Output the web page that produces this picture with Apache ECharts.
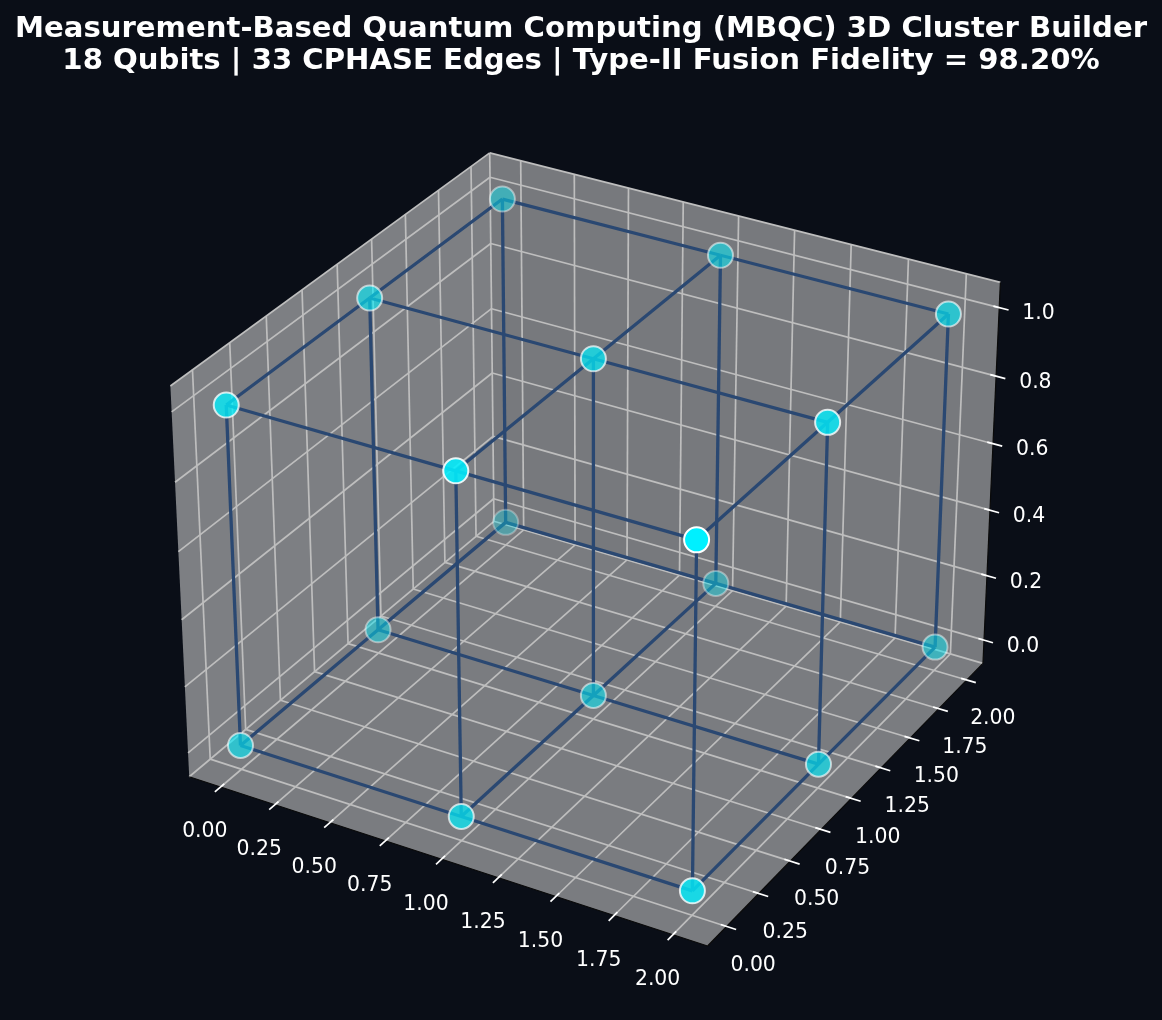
<!DOCTYPE html>
<html>
<head>
<meta charset="utf-8">
<style>html,body{margin:0;padding:0;background:#0a0e17}#c{width:1162px;height:1020px}</style>
<script src="https://cdn.jsdelivr.net/npm/echarts@6/dist/echarts.min.js"></script>
</head>
<body>
<div id="c"></div>
<script>
// ---- data ----
const qubitX = [0,0,0,1,1,1,2,2,2, 0,0,0,1,1,1,2,2,2];
const qubitY = [0,1,2,0,1,2,0,1,2, 0,1,2,0,1,2,0,1,2];
const qubitZ = [0,0,0,0,0,0,0,0,0, 1,1,1,1,1,1,1,1,1];
const edgeFrom = [0,1,3,4,6,7, 9,10,12,13,15,16, 0,3,1,4,2,5, 9,12,10,13,11,14, 0,1,2,3,4,5,6,7,8];
const edgeTo   = [1,2,4,5,7,8, 10,11,13,14,16,17, 3,6,4,7,5,8, 12,15,13,16,14,17, 9,10,11,12,13,14,15,16,17];
const xTicks = [0,0.25,0.5,0.75,1,1.25,1.5,1.75,2];
const yTicks = [0,0.25,0.5,0.75,1,1.25,1.5,1.75,2];
const zTicks = [0,0.2,0.4,0.6,0.8,1];
const xTickLabels = ['0.00','0.25','0.50','0.75','1.00','1.25','1.50','1.75','2.00'];
const yTickLabels = ['0.00','0.25','0.50','0.75','1.00','1.25','1.50','1.75','2.00'];
const zTickLabels = ['0.0','0.2','0.4','0.6','0.8','1.0'];
const titleText = 'Measurement-Based Quantum Computing (MBQC) 3D Cluster Builder\n18 Qubits | 33 CPHASE Edges | Type-II Fusion Fidelity = 98.20%';

// ---- 3D view: elevation 30, azimuth -60, box 4:4:3 ----
const xLim = [-0.1 - 2.2/48, 2.1 + 2.2/48];
const yLim = xLim;
const zLim = [-0.05 - 1.1/48, 1.05 + 1.1/48];
const boxScale = 1.8294640721620434 * 25/24 / Math.sqrt(41);
const box = [4*boxScale, 4*boxScale, 3*boxScale];
const camDist = 10, viewScale = 4988, viewCx = 593.4, viewCy = 530.4;
const el = 30*Math.PI/180, az = -60*Math.PI/180;
const W = [Math.cos(el)*Math.cos(az), Math.cos(el)*Math.sin(az), Math.sin(el)];
const un = Math.hypot(W[0],W[1]);
const U = [-W[1]/un, W[0]/un, 0];
const V = [W[1]*U[2]-W[2]*U[1], W[2]*U[0]-W[0]*U[2], W[0]*U[1]-W[1]*U[0]];
const dot = (a,b)=>a[0]*b[0]+a[1]*b[1]+a[2]*b[2];
function view(x,y,z){
  const p = [
    (x-xLim[0])/(xLim[1]-xLim[0])*box[0]-box[0]/2,
    (y-yLim[0])/(yLim[1]-yLim[0])*box[1]-box[1]/2,
    (z-zLim[0])/(zLim[1]-zLim[0])*box[2]-box[2]/2];
  const d = camDist - dot(p,W);
  return {sx: viewCx + viewScale*dot(p,U)/d, sy: viewCy - viewScale*dot(p,V)/d, depth: d};
}
const proj = (x,y,z)=>{const v=view(x,y,z);return [v.sx,v.sy];};
const seg = (a,b)=>[a[0],a[1],b[0],b[1]];

const [x0,x1]=xLim,[y0,y1]=yLim,[z0,z1]=zLim;

// panes
const panes = [
  {pts:[[x0,y0,z0],[x0,y1,z0],[x0,y1,z1],[x0,y0,z1]], fill:'rgb(125,127,131)'},
  {pts:[[x0,y1,z0],[x1,y1,z0],[x1,y1,z1],[x0,y1,z1]], fill:'rgb(119,121,125)'},
  {pts:[[x0,y0,z0],[x1,y0,z0],[x1,y1,z0],[x0,y1,z0]], fill:'rgb(122,124,128)'}
];
// grid lines
const gridSegs = [];
xTicks.forEach(t=>{gridSegs.push(seg(proj(t,y0,z0),proj(t,y1,z0)));gridSegs.push(seg(proj(t,y1,z0),proj(t,y1,z1)));});
yTicks.forEach(t=>{gridSegs.push(seg(proj(x0,t,z0),proj(x1,t,z0)));gridSegs.push(seg(proj(x0,t,z0),proj(x0,t,z1)));});
zTicks.forEach(t=>{gridSegs.push(seg(proj(x0,y0,t),proj(x0,y1,t)));gridSegs.push(seg(proj(x0,y1,t),proj(x1,y1,t)));});
// light pane edges
const paneEdges = [
  seg(proj(x0,y0,z1),proj(x0,y1,z1)), seg(proj(x0,y1,z1),proj(x1,y1,z1)),
  seg(proj(x0,y1,z0),proj(x0,y1,z1)), seg(proj(x0,y0,z0),proj(x0,y1,z0)), seg(proj(x0,y1,z0),proj(x1,y1,z0))
];
// dark axis lines
const axisSegs = [
  seg(proj(x0,y0,z0),proj(x1,y0,z0)), seg(proj(x1,y0,z0),proj(x1,y1,z0)), seg(proj(x1,y1,z0),proj(x1,y1,z1))
];
// ticks
const tickOut = 0.04, tickIn = 0.025;
const tickSegs = [];
const xLab=[],yLab=[],zLab=[];
xTicks.forEach((t,i)=>{const o=proj(t,y0-tickOut,z0);tickSegs.push(seg(o,proj(t,y0+tickIn,z0)));xLab.push([o[0]-10,o[1]+40,xTickLabels[i]]);});
yTicks.forEach((t,i)=>{const o=proj(x1+tickOut,t,z0);tickSegs.push(seg(o,proj(x1-tickIn,t,z0)));yLab.push([o[0]+17,o[1]+36,yTickLabels[i]]);});
zTicks.forEach((t,i)=>{const o=proj(x1+tickOut,y1,t);tickSegs.push(seg(o,proj(x1-tickIn,y1,t)));zLab.push([o[0]+30,o[1]+4,zTickLabels[i]]);});
// edges
const edgeSegs = edgeFrom.map((a,i)=>{const b=edgeTo[i];return seg(proj(qubitX[a],qubitY[a],qubitZ[a]),proj(qubitX[b],qubitY[b],qubitZ[b]));});
// nodes with depth shading
const nodeView = qubitX.map((x,i)=>view(x,qubitY[i],qubitZ[i]));
const dMin = Math.min(...nodeView.map(v=>v.depth)), dMax = Math.max(...nodeView.map(v=>v.depth));
const nodeColor = [0,240,255];
const nodeData = nodeView.map(v=>{
  const a = 1 - 0.7*Math.pow((v.depth-dMin)/(dMax-dMin),0.85);
  return {value:[v.sx,v.sy], itemStyle:{
    color:`rgba(${nodeColor.join(',')},${a})`,
    borderColor:`rgba(255,255,255,${a})`, borderWidth:2, opacity:1}};
}).map((d,i)=>({d,i})).sort((p,q)=>nodeView[q.i].depth-nodeView[p.i].depth).map(p=>p.d);

function segSeries(data,color,width,z){
  return {type:'custom',coordinateSystem:'cartesian2d',clip:false,silent:true,z,data,
    encode:{x:[0,2],y:[1,3]},
    renderItem:(p,api)=>{
      const a=api.coord([api.value(0),api.value(1)]),b=api.coord([api.value(2),api.value(3)]);
      return {type:'line',shape:{x1:a[0],y1:a[1],x2:b[0],y2:b[1]},style:{stroke:color,lineWidth:width,fill:null,lineCap:'butt'}};
    }};
}
function labelSeries(data){
  return {type:'scatter',silent:true,z:8,symbolSize:0,data,
    itemStyle:{color:'transparent',opacity:1},
    label:{show:true,position:'inside',align:'center',verticalAlign:'middle',color:'#ffffff',opacity:1,
      fontFamily:'DejaVu Sans',fontSize:20.4,formatter:p=>p.data[2]}};
}
const chart = echarts.init(document.getElementById('c'),null,{renderer:'canvas'});
chart.setOption({
  animation:false,
  backgroundColor:'#0a0e17',
  title:{text:titleText,left:576,top:8,textAlign:'center',
    textStyle:{color:'#ffffff',fontFamily:'DejaVu Sans',fontWeight:'bold',fontSize:29.15,lineHeight:32}},
  grid:{left:0,right:0,top:0,bottom:0},
  xAxis:{type:'value',min:0,max:1162,show:false},
  yAxis:{type:'value',min:0,max:1020,inverse:true,show:false},
  series:[
    {type:'custom',coordinateSystem:'cartesian2d',clip:false,silent:true,z:1,
     data:panes.map((p,i)=>[i]),encode:{x:[],y:[]},
     renderItem:(prm,api)=>{
       const p=panes[api.value(0)];
       return {type:'polygon',shape:{points:p.pts.map(c=>api.coord(proj(c[0],c[1],c[2])))},style:{fill:p.fill}};
     }},
    segSeries(gridSegs,'rgb(190,190,190)',1.7,2),
    segSeries(paneEdges,'rgb(190,190,190)',1.7,3),
    segSeries(axisSegs,'#0a0a0a',1.2,4),
    segSeries(tickSegs,'#ffffff',1.7,5),
    segSeries(edgeSegs,'#2a4872',3.3,6),
    {type:'scatter',silent:true,z:7,symbol:'circle',symbolSize:25,data:nodeData},
    labelSeries(xLab),labelSeries(yLab),labelSeries(zLab)
  ]
});
</script>
</body>
</html>
